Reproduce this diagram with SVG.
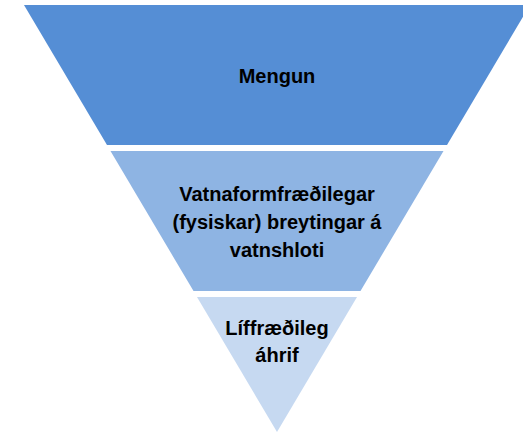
<svg xmlns="http://www.w3.org/2000/svg" width="523" height="432" viewBox="0 0 523 432">
  <style>
    .lbl { font-family: "Liberation Sans", Arial, sans-serif; font-weight: bold; font-size: 20px; fill: #000000; text-anchor: middle; }
  </style>
  <rect x="0" y="0" width="523" height="432" fill="#ffffff"/>
  <g id="level-mengun">
    <polygon points="24,5 530,5 447,145 107,145" fill="#558ED5"/>
    <text class="lbl" x="277" y="83">Mengun</text>
  </g>
  <g id="level-vatnaform">
    <polygon points="110.5,151 443.5,151 360.5,291 193.5,291" fill="#8EB4E3"/>
    <text class="lbl" x="277" y="201">Vatnaformfræðilegar</text>
    <text class="lbl" x="277" y="229">(fysiskar) breytingar á</text>
    <text class="lbl" x="277" y="257">vatnshloti</text>
  </g>
  <g id="level-liffraedileg">
    <polygon points="197,297 357,297 277,432" fill="#C6D9F1"/>
    <text class="lbl" x="277" y="335">Líffræðileg</text>
    <text class="lbl" x="277" y="362">áhrif</text>
  </g>
  <g id="connectors"></g>
</svg>
